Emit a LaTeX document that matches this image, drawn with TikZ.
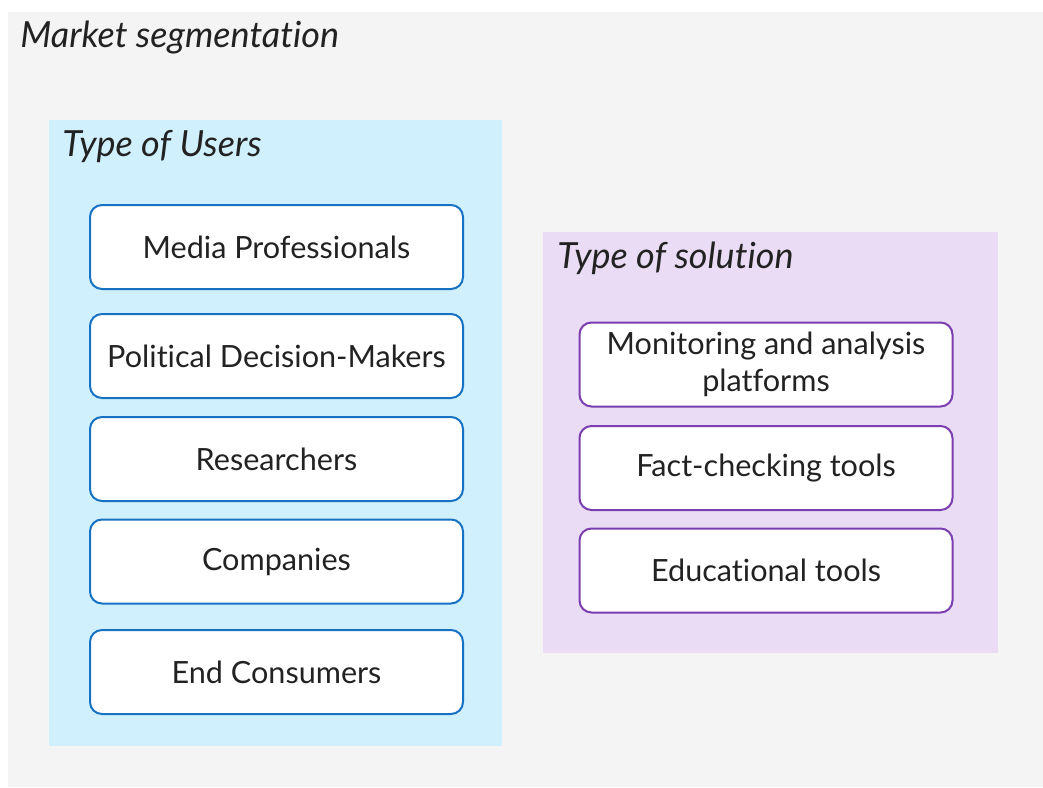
\documentclass[tikz,border=0pt]{standalone}
\usepackage{xcolor}
\usepackage{fontspec}
\setmainfont{Lato}[Ligatures={NoCommon}]
\usepackage{tikz}
\usetikzlibrary{arrows.meta, positioning}
\definecolor{canvas}{RGB}{244, 244, 244}
\definecolor{userbg}{RGB}{208, 240, 253}
\definecolor{userline}{RGB}{24, 114, 196}
\definecolor{solbg}{RGB}{233, 220, 244}
\definecolor{solline}{RGB}{122, 62, 176}
\definecolor{ink}{RGB}{34, 34, 34}

\begin{document}
\begin{tikzpicture}[
    x=0.5pt, y=-0.5pt,
    >=Stealth,
    heading/.style={anchor=west, font=\fontsize{18}{21}\selectfont\itshape, text=ink, inner sep=0pt},
    userbox/.style={draw=userline, line width=1pt, fill=white, rounded corners=6pt,
      minimum width=186.5pt, minimum height=42pt, font=\fontsize{15.3}{18.2}\selectfont, text=ink, align=center},
    solbox/.style={userbox, draw=solline}
  ]
  \useasboundingbox (0,0) rectangle (1043,787);

  % Background and panels
  \fill[white] (0,0) rectangle (1043,787);
  \fill[canvas] (8,12) rectangle (1043,787);
  \fill[userbg] (49,120) rectangle (502,746);
  \fill[solbg] (543,232) rectangle (998,653);

  % Headings
  \node[heading] (market) at (20,38) {Market segmentation};
  \node[heading] (users) at (62,146) {Type of Users};
  \node[heading] (solution) at (557,258) {Type of solution};

  % Type of users
  \node[userbox] (media) at (276.5,247) {Media Professionals};
  \node[userbox] (policy) at (276.5,356) {Political Decision-Makers};
  \node[userbox] (research) at (276.5,459) {Researchers};
  \node[userbox] (companies) at (276.5,561.5) {Companies};
  \node[userbox] (consumers) at (276.5,672) {End Consumers};

  % Type of solution
  \node[solbox] (monitor) at (766,364.5) {Monitoring and analysis\\platforms};
  \node[solbox] (factcheck) at (766,468) {Fact-checking tools};
  \node[solbox] (edu) at (766,570.5) {Educational tools};

\end{tikzpicture}
\end{document}
